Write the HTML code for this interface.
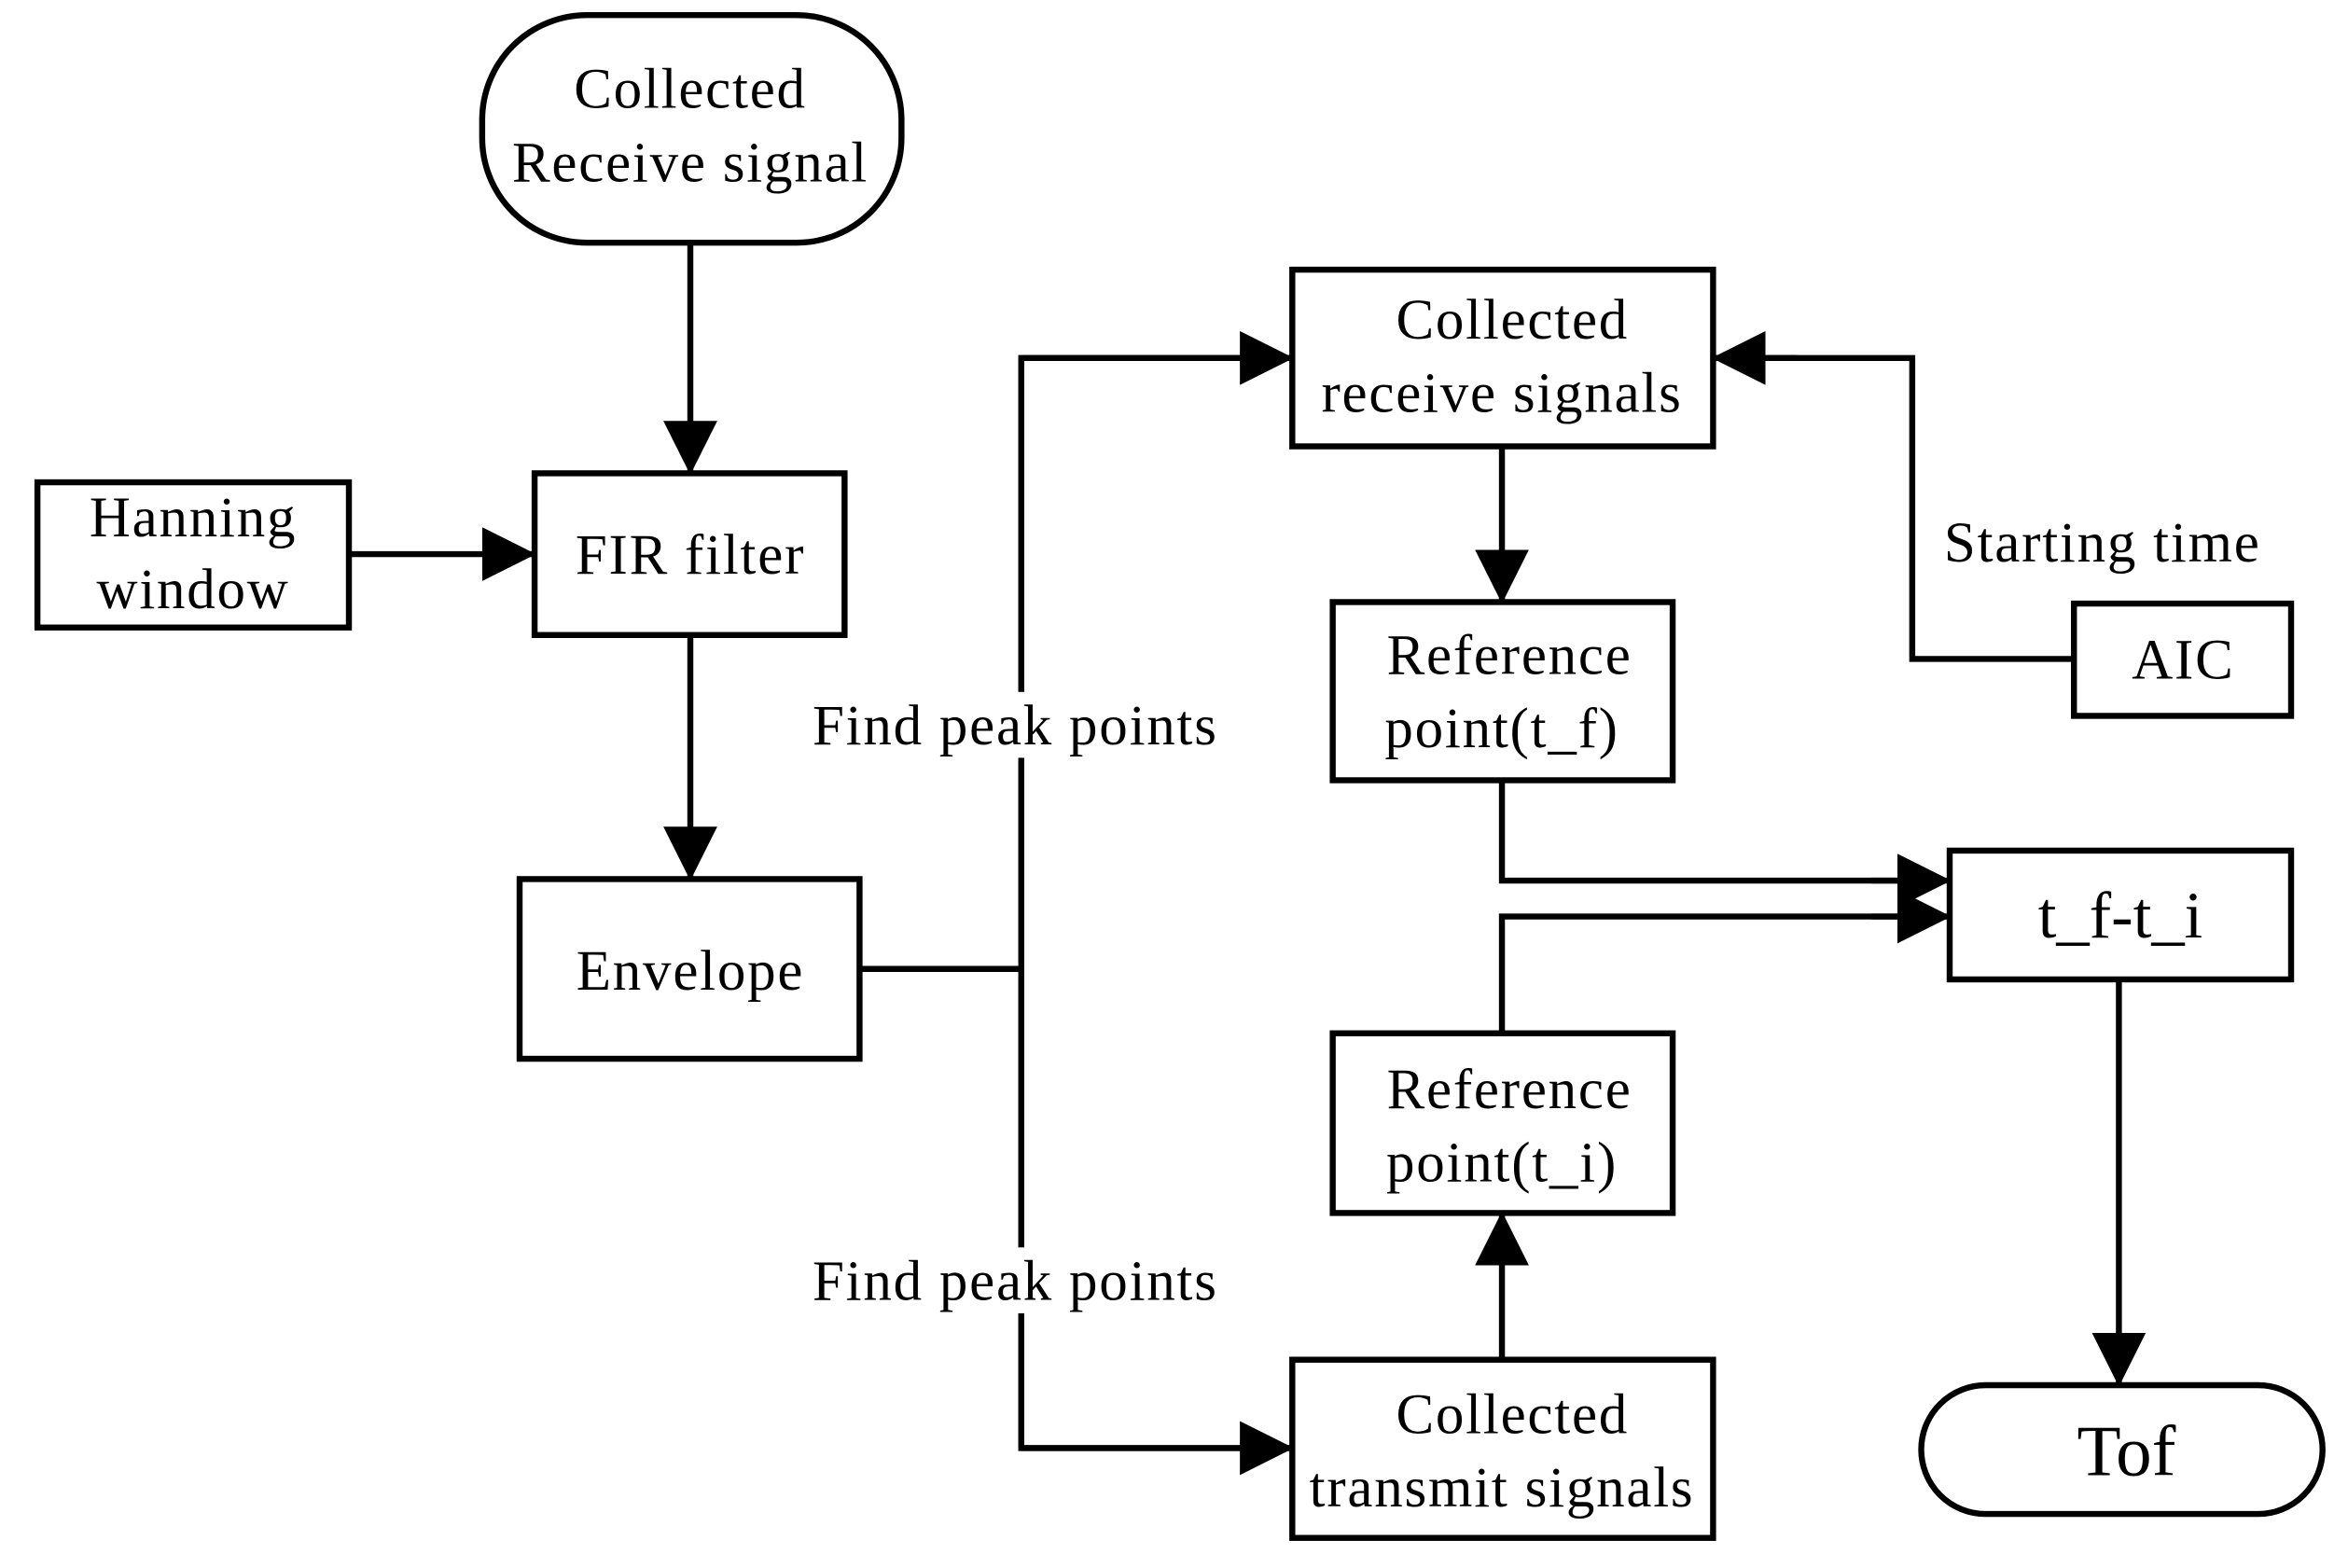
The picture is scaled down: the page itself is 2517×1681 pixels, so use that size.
<!DOCTYPE html>
<html><head><meta charset="utf-8"><style>
html,body{margin:0;padding:0;background:#fff}
svg{display:block}
text{font-family:"Liberation Serif",serif;fill:#000;text-anchor:middle}
.s text{letter-spacing:1.1px}
</style></head><body>
<svg width="2517" height="1681" viewBox="0 0 1568 1047" xmlns="http://www.w3.org/2000/svg">
<defs>
<marker id="b" markerWidth="36" markerHeight="36" refX="35" refY="18" orient="auto" markerUnits="userSpaceOnUse"><path d="M0,0 L36,18 L0,36 z"/></marker></defs>
<g fill="none" stroke="#000" stroke-width="4">
<rect x="322" y="10" width="280" height="152" rx="70"/>
<rect x="25" y="322" width="208" height="97"/>
<rect x="357" y="316" width="207" height="108"/>
<rect x="347" y="587" width="227" height="120"/>
<rect x="863" y="180" width="281" height="118"/>
<rect x="890" y="402" width="227" height="119"/>
<rect x="1385" y="403" width="145" height="75"/>
<rect x="1302" y="568" width="228" height="86"/>
<rect x="890" y="690" width="227" height="120"/>
<rect x="863" y="908" width="281" height="119"/>
<rect x="1283" y="925" width="268" height="86" rx="43"/>
<line x1="461" y1="162" x2="461" y2="316" marker-end="url(#b)"/>
<line x1="233" y1="370" x2="357" y2="370" marker-end="url(#b)"/>
<line x1="461" y1="424" x2="461" y2="587" marker-end="url(#b)"/>
<line x1="574" y1="647" x2="682" y2="647"/>
<polyline points="862,239 682,239 682,967 862,967"/>
<line x1="682" y1="239" x2="863" y2="239" marker-end="url(#b)"/>
<line x1="682" y1="967" x2="863" y2="967" marker-end="url(#b)"/>
<line x1="1003" y1="298" x2="1003" y2="402" marker-end="url(#b)"/>
<polyline points="1385,440 1277,440 1277,239 1180,239"/>
<line x1="1200" y1="239" x2="1144" y2="239" marker-end="url(#b)"/>
<polyline points="1003,521 1003,588 1280,588"/>
<line x1="1250" y1="588" x2="1302" y2="588" marker-end="url(#b)"/>
<polyline points="1003,690 1003,612 1280,612"/>
<line x1="1250" y1="612" x2="1302" y2="612" marker-end="url(#b)"/>
<line x1="1003" y1="908" x2="1003" y2="810" marker-end="url(#b)"/>
<line x1="1415" y1="654" x2="1415" y2="925" marker-end="url(#b)"/>
</g>
<rect x="538" y="462" width="280" height="44" fill="#fff"/>
<rect x="538" y="833" width="280" height="44" fill="#fff"/>
<g font-size="38" class="s">
<text x="461" y="72">Collected</text>
<text x="461" y="121">Receive signal</text>
<text x="129" y="358">Hanning</text>
<text x="129" y="406">window</text>
<text x="461" y="383">FIR filter</text>
<text x="461" y="661">Envelope</text>
<text x="678" y="497">Find peak points</text>
<text x="678" y="868">Find peak points</text>
<text x="1010" y="226">Collected</text>
<text x="1003" y="275">receive signals</text>
<text x="1008" y="450">Reference</text>
<text x="1003" y="499">point(t_f)</text>
<text x="1404" y="375">Starting time</text>
<text x="1458" y="453">AIC</text>
<text x="1008" y="740">Reference</text>
<text x="1003" y="789">point(t_i)</text>
<text x="1010" y="957">Collected</text>
<text x="1003" y="1006">transmit signals</text>
</g>
<text x="1416" y="626" font-size="44">t_f-t_i</text>
<text x="1420" y="985" font-size="48">Tof</text>
</svg>
</body></html>
